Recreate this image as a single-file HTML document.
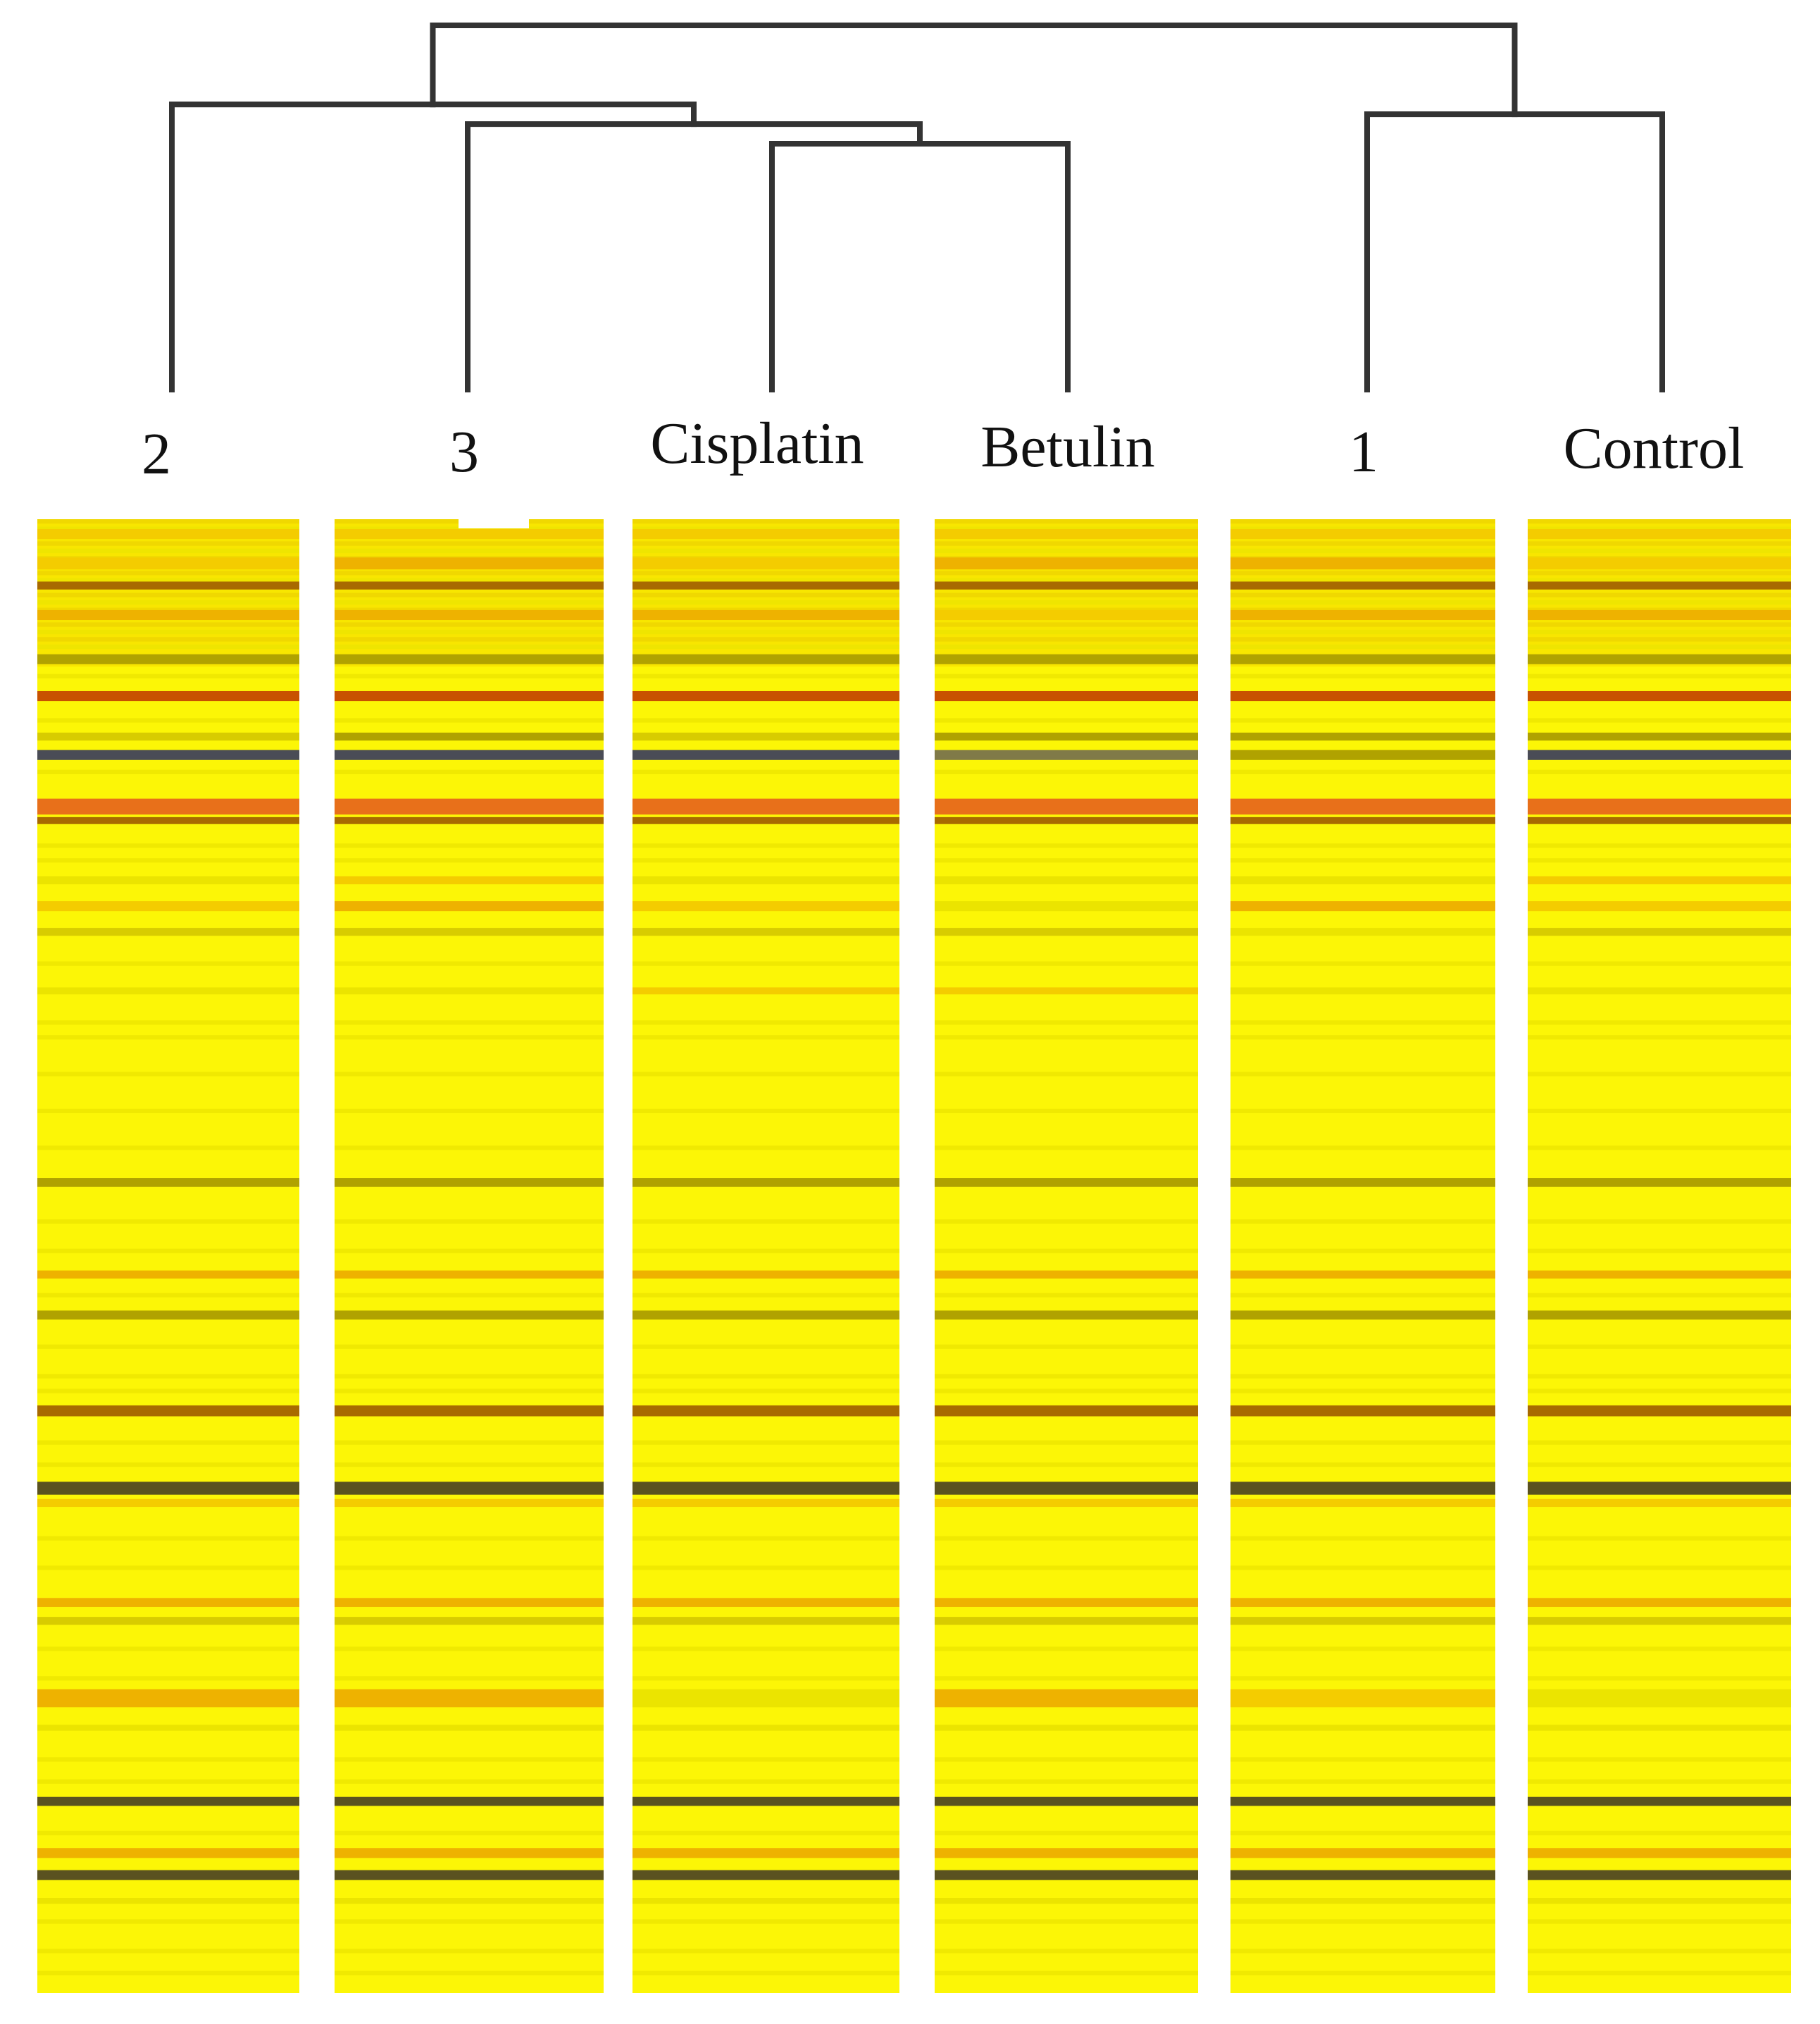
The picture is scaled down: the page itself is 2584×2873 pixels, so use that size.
<!DOCTYPE html>
<html><head><meta charset="utf-8">
<style>
html,body{margin:0;padding:0;background:#fff}
svg{display:block}
</style></head>
<body>
<svg id="chart" width="2584" height="2873" viewBox="0 0 2584 2873" xmlns="http://www.w3.org/2000/svg">
<rect x="0" y="0" width="2584" height="2873" fill="#fff"/>
<g id="dendro"></g>
<g id="labels"></g>
<g id="heat"></g>
</svg>
<script>
// ---- data ----
const samples = ["2","3","Cisplatin","Betulin","1","Control"];
// merge heights (distance units)
const mergeCB = 6.75;    // Cisplatin + Betulin
const merge3CB = 7.29;   // 3 + (Cisplatin,Betulin)
const merge2 = 7.83;     // 2 + (3,(Cis,Bet))
const merge1C = 7.56;    // 1 + Control
const mergeRoot = 10;    // root
const rowCount = 200;
// band rows (gene index) and span
const bandRows  = [2,6,9,13,19,24,29.5,32,39,40.9,49,52.5,56,64,90,102.5,108,121,131.5,133.5,147,149.5,160,164,174,181,184,187.5];
const bandSpans = [1,1.2,0.8,1,1,1,0.8,1,1.6,0.7,0.8,1,0.8,0.7,0.9,0.8,0.9,1.1,1.3,0.8,0.9,0.8,1.8,0.6,0.9,1,1,0.6];
// values per column: index into colour levels
const col2v   = [2,2,8,3,4,5,10,7,6,8,1,2,10,1,4,3,4,8,9,2,3,10,3,1,9,3,9,1];
const col3v   = [2,3,8,3,4,5,4,7,6,8,2,3,10,1,4,3,4,8,9,2,3,10,3,1,9,3,9,1];
const colCisv = [2,2,8,3,4,5,10,7,6,8,1,2,10,2,4,3,4,8,9,2,3,10,1,1,9,3,9,1];
const colBetv = [2,3,8,2,4,5,4,11,6,8,1,1,10,2,4,3,4,8,9,2,3,10,3,1,9,3,9,1];
const col1v   = [2,3,8,3,4,5,4,4,6,8,1,3,1,1,4,3,4,8,9,2,3,10,2,1,9,3,9,1];
const colCtrlv= [2,2,8,3,4,5,4,7,6,8,2,2,10,1,4,3,4,8,9,2,3,10,1,1,9,3,9,1];
// faint background rows
const faintRows = [1,4,8,11,15,17,21,27,34,44,46,60,68,70,75,80,85,95,99,105,112,116,118,125,128,138,142,153,157,168,171,178,190,194,197];
const topTintRows = [0,3,5,7,10,12,14,16];
// ---- styles ----
const levelColor = ["#fcf606","#ebe400","#f4cc00","#eeb200","#b0a200","#c85200","#e8701a","#4a4c56","#a86a00","#5a5220","#d8cc00","#807a48"];
const colX = [[53,425],[475,857],[898,1277],[1327,1701],[1747,2123],[2169,2543]];
const leafX = [244,664,1096,1516,1941,2360];
const heatTop = 737, heatBot = 2829;
const leafBottom = 553, dendroK = 51.7;
const labelY = [672,669,657,662,669,664];
const labelX = [222,659,1075,1516,1936,2348];
const spanScale = 1.35;
const NS = "http://www.w3.org/2000/svg";
function yRow(r){ return heatTop + r*(heatBot-heatTop)/rowCount; }
function yDist(d){ return leafBottom - d*dendroK; }
function mk(tag, attrs, parent){ const e=document.createElementNS(NS,tag); for(const k in attrs) e.setAttribute(k,attrs[k]); parent.appendChild(e); return e; }

// dendrogram
const dg = document.getElementById('dendro');
function link(x1,y1,x2,y2,ytop,name){
  const p = mk('path',{d:`M${x1},${y1} V${ytop} H${x2} V${y2}`,fill:'none',stroke:'#333',"stroke-width":8,"stroke-linecap":'square'},dg);
  
  
}
const xCB = (leafX[2]+leafX[3])/2;
link(leafX[2],yDist(0),leafX[3],yDist(0),yDist(mergeCB),'branch-cisplatin-betulin');
const x3CB = (leafX[1]+xCB)/2;
link(leafX[1],yDist(0),xCB,yDist(mergeCB),yDist(merge3CB),'branch-3-cluster');
const x2 = (leafX[0]+x3CB)/2;
link(leafX[0],yDist(0),x3CB,yDist(merge3CB),yDist(merge2),'branch-2-cluster');
const x1C = (leafX[4]+leafX[5])/2;
link(leafX[4],yDist(0),leafX[5],yDist(0),yDist(merge1C),'branch-1-control');
link(x2,yDist(merge2),x1C,yDist(merge1C),yDist(mergeRoot),'branch-root');

// labels
const lg = document.getElementById('labels');
samples.forEach((s,i)=>{
  const t = mk('text',{x:labelX[i],y:labelY[i],"text-anchor":'middle',"font-family":'"Liberation Serif", serif',"font-size":84,fill:'#111'},lg);
  t.textContent = s;
  
  
});

// heatmap
const hg = document.getElementById('heat');
const colVals = [col2v,col3v,colCisv,colBetv,col1v,colCtrlv];
colX.forEach((cx,ci)=>{
  const g = mk('g',{},hg);
  
  
  mk('rect',{x:cx[0],y:heatTop,width:cx[1]-cx[0],height:heatBot-heatTop,fill:levelColor[0]},g);
  mk('rect',{x:cx[0],y:heatTop,width:cx[1]-cx[0],height:yRow(20)-heatTop,fill:'#f8e600'},g);
  topTintRows.forEach(r=>{
    mk('rect',{x:cx[0],y:yRow(r),width:cx[1]-cx[0],height:yRow(r+0.6)-yRow(r),fill:'#eed400',opacity:0.8},g);
  });
  faintRows.forEach(r=>{
    mk('rect',{x:cx[0],y:yRow(r),width:cx[1]-cx[0],height:yRow(r+0.6)-yRow(r),fill:levelColor[1],opacity:0.7},g);
  });
  bandRows.forEach((r,bi)=>{
    const v = colVals[ci][bi];
    const sp = bandSpans[bi]*spanScale;
    const c = mk('rect',{x:cx[0],y:yRow(r-sp/2),width:cx[1]-cx[0],height:yRow(sp)-heatTop,fill:levelColor[v]},g);
    
    
  });
});
// small white notch on column "3"
const notch = mk('rect',{x:651,y:730,width:100,height:20,fill:'#fff'},hg);


</script>
</body></html>
